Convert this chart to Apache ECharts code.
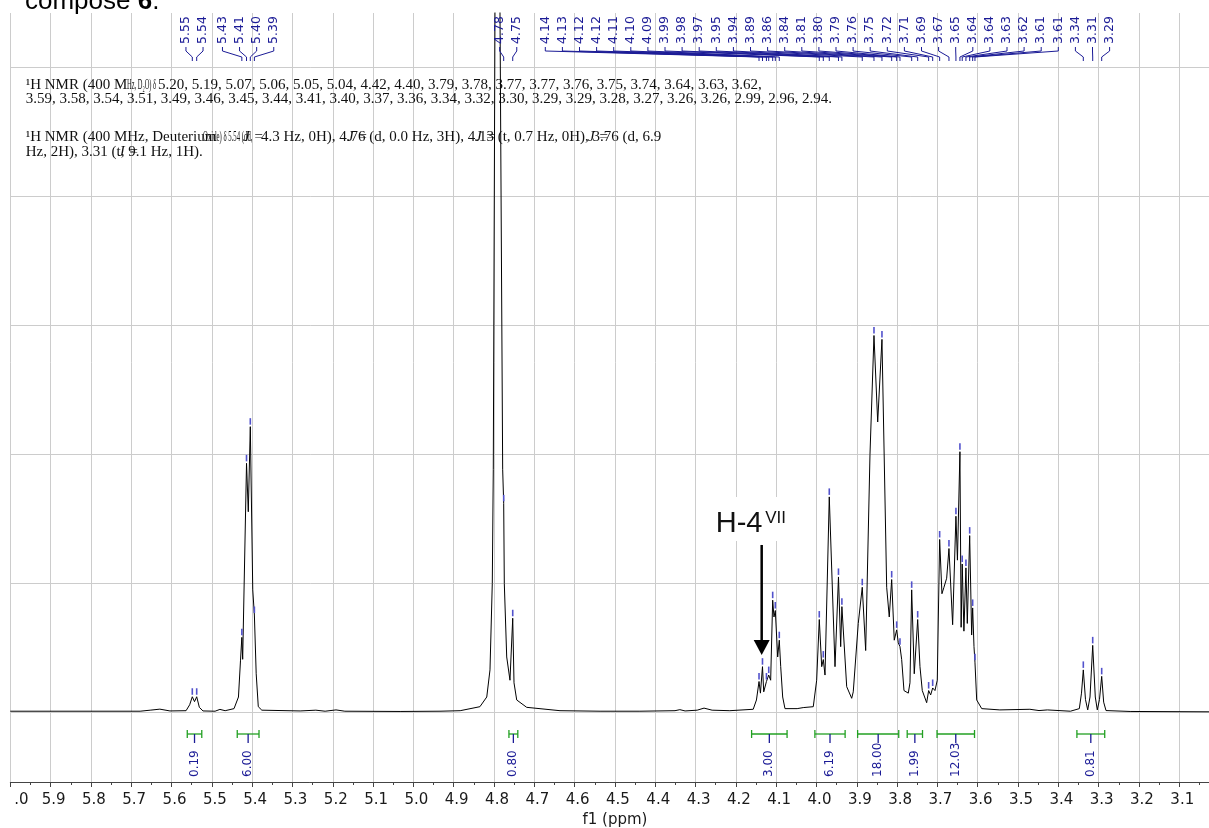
<!DOCTYPE html>
<html><head><meta charset="utf-8">
<script src="https://cdn.jsdelivr.net/npm/echarts@6/dist/echarts.min.js"></script>
<style>html,body{margin:0;padding:0;background:#fff}#c{width:1209px;height:828px}</style>
</head><body><div id="c"></div>
<script>
// ---------- spectrum (ppm, intensity) ----------
const specPpm = [6.000,5.678,5.653,5.629,5.604,5.564,5.555,5.5485,5.543,5.5376,5.531,5.522,5.492,5.480,5.467,5.445,5.434,5.429,5.4256,5.4235,5.4140,5.4096,5.4046,5.3985,5.3945,5.3900,5.3848,5.376,5.281,5.242,5.219,5.192,5.170,5.033,4.934,4.884,4.835,4.818,4.810,4.8043,4.8018,4.7976,4.7914,4.7852,4.7785,4.7760,4.7745,4.7685,4.7604,4.7590,4.7536,4.7504,4.7437,4.7189,4.6363,4.537,4.438,4.351,4.339,4.326,4.296,4.279,4.259,4.215,4.157,4.149,4.1426,4.1391,4.1340,4.1309,4.1242,4.1185,4.1137,4.1087,4.1055,4.1022,4.0963,4.0923,4.0888,4.0839,4.0782,4.048,4.033,4.008,3.9996,3.9931,3.9871,3.9831,3.9789,3.9683,3.9541,3.9455,3.9400,3.9370,3.9251,3.9127,3.9088,3.8964,3.8865,3.8780,3.8673,3.8574,3.8482,3.8376,3.8259,3.8195,3.8135,3.8071,3.8011,3.7971,3.7929,3.7887,3.7830,3.7723,3.7681,3.7639,3.7575,3.7490,3.7433,3.7376,3.7267,3.7218,3.7168,3.7118,3.7061,3.7004,3.6945,3.6888,3.6838,3.6771,3.6714,3.6623,3.6541,3.6504,3.6442,3.6412,3.6385,3.6343,3.6293,3.6259,3.6200,3.6151,3.6126,3.6093,3.6069,3.6026,3.5901,3.5451,3.4706,3.448,3.4272,3.370,3.348,3.3426,3.3381,3.3327,3.3272,3.3215,3.3148,3.3084,3.3034,3.2980,3.2925,3.2876,3.2818,3.222,3.000];
const specInt = [0.010,0.010,0.018,0.026,0.012,0.014,0.060,0.122,0.084,0.122,0.040,0.012,0.010,0.024,0.014,0.030,0.120,0.400,0.582,0.412,1.930,1.555,2.214,0.950,0.755,0.300,0.045,0.018,0.012,0.018,0.010,0.020,0.010,0.008,0.010,0.014,0.045,0.120,0.330,1.000,1.880,5.450,14.0,5.450,1.880,1.620,1.000,0.430,0.250,0.240,0.730,0.230,0.097,0.040,0.014,0.010,0.010,0.014,0.022,0.012,0.018,0.034,0.018,0.014,0.025,0.097,0.240,0.150,0.355,0.160,0.240,0.290,0.250,0.870,0.740,0.790,0.430,0.560,0.355,0.120,0.030,0.030,0.038,0.045,0.250,0.720,0.355,0.410,0.290,1.670,0.355,1.050,0.510,0.820,0.200,0.110,0.160,0.690,0.970,0.480,2.000,2.920,2.250,2.890,0.970,0.740,1.030,0.560,0.640,0.540,0.510,0.410,0.170,0.150,0.230,0.950,0.300,0.720,0.355,0.170,0.076,0.170,0.136,0.190,0.170,0.250,1.340,0.920,0.970,1.040,1.270,0.680,1.520,1.180,2.020,0.660,1.150,0.630,1.120,0.690,1.370,0.600,0.810,0.510,0.390,0.097,0.030,0.020,0.025,0.015,0.020,0.010,0.030,0.150,0.330,0.100,0.020,0.120,0.520,0.120,0.020,0.100,0.280,0.080,0.015,0.008,0.005];

// ---------- picked peaks (label text = value rounded to 2 decimals) ----------
const peakPpm = [5.5485,5.5376, 5.4256,5.4140,5.4046,5.3945, 4.7760,4.7536,
  4.1426,4.1340,4.1242,4.1185,4.1087,4.1022,4.0923,3.9931,3.9831,3.9683,3.9455,3.9370,3.8865,3.8574,3.8376,3.8135,3.8011,3.7929,3.7639,3.7490,3.7218,3.7118,3.6945,3.6714,3.6541,3.6442,3.6385,3.6293,3.6200,3.6126,3.6069,
  3.3381,3.3148,3.2925];
const peakGroupSizes = [2,4,2,31,3];

// ---------- integrals ----------
const intFrom = [5.561,5.437,4.763,4.161,4.004,3.898,3.775,3.701,3.354];
const intTo   = [5.525,5.383,4.741,4.073,3.929,3.796,3.737,3.608,3.285];
const intValue = ['0.19','6.00','0.80','3.00','6.19','18.00','1.99','12.03','0.81'];

// ---------- annotation ----------
const annotPpm = [4.1340];
const annotMain = ['H-4'];
const annotSup = ['VII'];

// ---------- multiplet report text ----------
const reportLines = [
  {y:85, segs:[[25.7,'¹H NMR (400 M',0,1],[127,'Hz, D₂O) δ',0,0.43],[158,'5.20, 5.19, 5.07, 5.06, 5.05, 5.04, 4.42, 4.40, 3.79, 3.78, 3.77, 3.77, 3.76, 3.75, 3.74, 3.64, 3.63, 3.62,',0,1]]},
  {y:99.5, segs:[[25.7,'3.59, 3.58, 3.54, 3.51, 3.49, 3.46, 3.45, 3.44, 3.41, 3.40, 3.37, 3.36, 3.34, 3.32, 3.30, 3.29, 3.29, 3.28, 3.27, 3.26, 3.26, 2.99, 2.96, 2.94.',0,1]]},
  {y:137, segs:[[25.7,'¹H NMR (400 MHz, Deuterium',0,1],[203,'Oxide) δ 5.54 (dd,',0,0.45],[243,'J =',1,1],[261,'4.3 Hz, 0H), 4.76 (d, 0.0 Hz, 3H), 4.13 (t, 0.7 Hz, 0H), 3.76 (d, 6.9',0,1],[347,'J =',1,1],[475,'J =',1,1],[588,'J =',1,1]]},
  {y:152, segs:[[25.7,'Hz, 2H), 3.31 (t, 9.1 Hz, 1H).',0,1],[118,'J =',1,1]]}
];

const NAVY = '#1b1b96';
const GRID = '#cccccc';
const GAP = 17.1;

function intensityAt(p){
  const i = specPpm.findIndex(v => Math.abs(v - p) < 1e-9);
  return i >= 0 ? specInt[i] : 0;
}

// label layout: each group centred over its peaks, then pushed left when it collides with the next group
function labelLayout(api){
  const xs = peakPpm.map(p => api.coord([p, 0])[0]);
  const groups = [];
  let k = 0;
  peakGroupSizes.forEach(n => {
    const a = xs[k], b = xs[k + n - 1];
    const need = (n - 1) * GAP;
    groups.push({k: k, n: n, start: (a + b) / 2 - need / 2});
    k += n;
  });
  for (let g = groups.length - 2; g >= 0; g--) {
    const G = groups[g], H = groups[g + 1];
    const end = G.start + (G.n - 1) * GAP;
    if (end > H.start - GAP) G.start = H.start - GAP - (G.n - 1) * GAP;
  }
  const out = new Array(xs.length);
  groups.forEach(G => { for (let i = 0; i < G.n; i++) out[G.k + i] = G.start + i * GAP; });
  return {xs: xs, lx: out};
}

const graphics = [{
  type:'text', x:25, y:2, z:1,
  style:{text:'compose {b|6}.', font:'26px "Liberation Sans", Arial, sans-serif', fill:'#000',
    verticalAlign:'middle', textVerticalAlign:'middle',
    rich:{b:{fontWeight:'bold', fontSize:26, fontFamily:'Liberation Sans'}}}
}];
reportLines.forEach(L => L.segs.forEach(s => {
  graphics.push({type:'text', x:s[0], y:L.y, scaleX:s[3], z:1, silent:true,
    style:{text:s[1], font:(s[2] ? 'italic ' : '') + '15px "Liberation Serif", "Times New Roman", serif', fill:'#111',
      align:'left', textAlign:'left', verticalAlign:'middle', textVerticalAlign:'middle'}});
}));

const xBase = {type:'value', min:3.0, max:6.0, inverse:true, interval:0.1};
const chart = echarts.init(document.getElementById('c'), null, {width:1209, height:828});
chart.setOption({
  animation:false,
  backgroundColor:'#fff',
  grid:[
    {left:10.3, width:1209.3, top:13, height:699.5, containLabel:false, outerBoundsMode:'none'},
    {left:10.3, width:1209.3, top:712.5, height:69.5, containLabel:false, outerBoundsMode:'none'}
  ],
  xAxis:[
    Object.assign({}, xBase, {gridIndex:0, axisLine:{show:false}, axisTick:{show:false}, axisLabel:{show:false},
      splitLine:{show:true, lineStyle:{color:GRID, width:1}}}),
    Object.assign({}, xBase, {gridIndex:1,
      axisLine:{show:true, lineStyle:{color:'#444', width:1}},
      axisTick:{show:true, length:5, lineStyle:{color:'#444'}},
      minorTick:{show:true, splitNumber:2, length:3, lineStyle:{color:'#444'}},
      splitLine:{show:true, lineStyle:{color:GRID, width:1}},
      axisLabel:{show:true, margin:11, fontSize:15, fontFamily:'"DejaVu Sans", Verdana, sans-serif', color:'#1a1a1a',
        padding:[0,0,0,6],
        formatter: v => Math.abs(v - 6) < 1e-6 ? '{p|.0}' : v.toFixed(1),
        rich:{p:{padding:[0,0,0,16], fontSize:15, fontFamily:'DejaVu Sans', color:'#1a1a1a'}}},
      name:'f1 (ppm)', nameLocation:'middle', nameGap:31,
      nameTextStyle:{fontSize:15, fontFamily:'"DejaVu Sans", Verdana, sans-serif', color:'#1a1a1a'}})
  ],
  yAxis:[
    {type:'value', gridIndex:0, min:0, max:5.418, interval:1, axisLine:{show:false}, axisTick:{show:false}, axisLabel:{show:false},
      splitLine:{show:true, showMinLine:true, showMaxLine:false, lineStyle:{color:GRID, width:1}}},
    {type:'value', gridIndex:1, min:0, max:1, show:false, splitLine:{show:false}}
  ],
  graphic: graphics,
  series:[
    {type:'line', xAxisIndex:0, yAxisIndex:0, data: specPpm.map((p, i) => [p, specInt[i]]),
      symbol:'none', showSymbol:false, smooth:false, clip:true, z:3,
      lineStyle:{color:'#000', width:1}},
    {type:'custom', xAxisIndex:0, yAxisIndex:0, z:4, silent:true,
      data: peakPpm.map(p => [p, intensityAt(p)]),
      encode:{x:0, y:1},
      renderItem:(params, api) => {
        const pt = api.coord([api.value(0), api.value(1)]);
        if (pt[1] < params.coordSys.y + 56) return null;
        return {type:'line', shape:{x1:pt[0], y1:pt[1]-8.5, x2:pt[0], y2:pt[1]-2},
          style:{stroke:'#5252cc', lineWidth:1.6}};
      }},
    {type:'custom', xAxisIndex:0, yAxisIndex:0, z:4, silent:true,
      data: peakPpm.map(p => [p, 5]),
      encode:{x:0, y:1},
      renderItem:(params, api) => {
        const i = params.dataIndex;
        const L = labelLayout(api);
        const lx = L.lx[i], px = L.xs[i], top = params.coordSys.y;
        return {type:'group', children:[
          {type:'text', x:lx, y:top+31, rotation:Math.PI/2,
            style:{text:peakPpm[i].toFixed(2), fill:NAVY, font:'12.5px "DejaVu Sans", Verdana, sans-serif',
              align:'left', textAlign:'left', verticalAlign:'middle', textVerticalAlign:'middle'}},
          {type:'polyline', shape:{points:[[lx, top+34],[lx, top+38],[px, top+44],[px, top+48]]},
            style:{stroke:NAVY, fill:null, lineWidth:1}}
        ]};
      }},
    {type:'custom', xAxisIndex:1, yAxisIndex:1, z:4, silent:true,
      data: intFrom.map((a, i) => [a, intTo[i], i]),
      encode:{x:[0,1]},
      renderItem:(params, api) => {
        const x1 = api.coord([api.value(0), 0])[0], x2 = api.coord([api.value(1), 0])[0];
        const cx = (x1 + x2) / 2, cs = params.coordSys, yb = cs.y + 21.5;
        const green = '#22a022';
        return {type:'group', children:[
          {type:'line', shape:{x1:x1, y1:yb, x2:x2, y2:yb}, style:{stroke:green, lineWidth:1.3}},
          {type:'line', shape:{x1:x1, y1:yb-4, x2:x1, y2:yb+4}, style:{stroke:green, lineWidth:1.3}},
          {type:'line', shape:{x1:x2, y1:yb-4, x2:x2, y2:yb+4}, style:{stroke:green, lineWidth:1.3}},
          {type:'line', shape:{x1:cx, y1:yb, x2:cx, y2:yb+9}, style:{stroke:NAVY, lineWidth:1.3}},
          {type:'text', x:cx, y:cs.y+64.5, rotation:Math.PI/2,
            style:{text:intValue[api.value(2)], fill:NAVY, font:'12px "DejaVu Sans", Verdana, sans-serif',
              align:'left', textAlign:'left', verticalAlign:'middle', textVerticalAlign:'middle'}}
        ]};
      }},
    {type:'custom', xAxisIndex:0, yAxisIndex:0, z:5, silent:true,
      data: annotPpm.map((p, i) => [p, intensityAt(p), i]),
      encode:{x:0, y:1},
      renderItem:(params, api) => {
        const pt = api.coord([api.value(0), api.value(1)]);
        const tx = pt[0] - 0.8, ty = pt[1] - 11.7, k = api.value(2);
        return {type:'group', children:[
          {type:'rect', shape:{x:tx-50, y:ty-158, width:80, height:44}, style:{fill:'#fff'}},
          {type:'line', shape:{x1:tx, y1:ty-110, x2:tx, y2:ty-14}, style:{stroke:'#000', lineWidth:2.5}},
          {type:'polygon', shape:{points:[[tx-8, ty-15],[tx+8, ty-15],[tx, ty]]}, style:{fill:'#000'}},
          {type:'text', x:tx-46, y:ty-131,
            style:{text:annotMain[k], fill:'#111', font:'29px "Liberation Sans", Arial, sans-serif',
              align:'left', textAlign:'left', verticalAlign:'middle', textVerticalAlign:'middle'}},
          {type:'text', x:tx+3.5, y:ty-137,
            style:{text:annotSup[k], fill:'#111', font:'17px "Liberation Sans", Arial, sans-serif',
              align:'left', textAlign:'left', verticalAlign:'middle', textVerticalAlign:'middle'}}
        ]};
      }}
  ]
});
</script>
</body></html>
